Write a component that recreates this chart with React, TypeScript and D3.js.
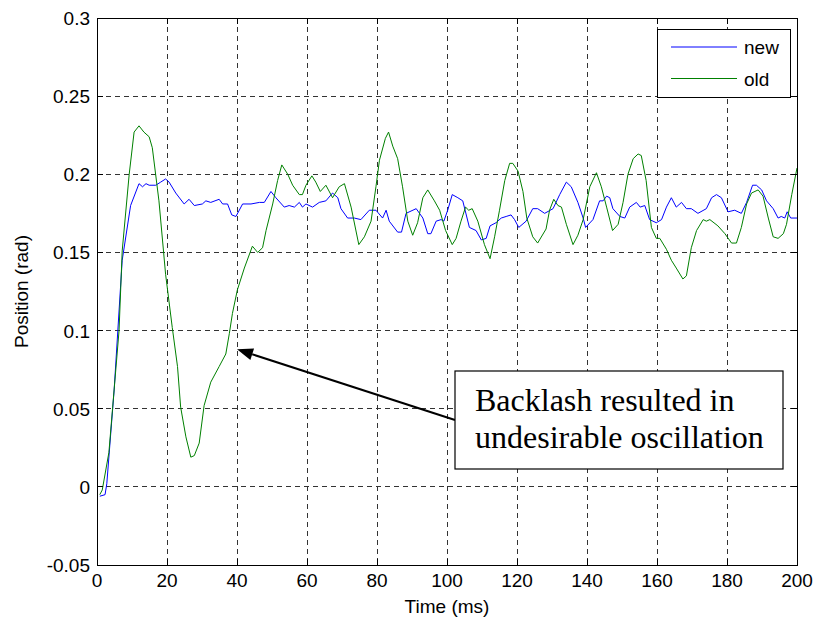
import React from 'react'
import * as d3 from 'd3'

// time (ms) and position (rad)
const oldTime = [0.8, 1.5, 3.4, 6.3, 7.2, 9.2, 10.6, 12, 13.4, 14.9, 15.8, 17.7, 19.6, 21.5, 23, 23.9, 25.4, 26.8, 27.8, 29.2, 30.6, 32.5, 34.9, 36.8, 37.8, 38.7, 40.1, 42.1, 44.4, 45.9, 47.3, 48.3, 50.2, 51.6, 52.8, 54.5, 55.9, 57.8, 58.7, 59.7, 61.4, 62.5, 63.8, 65.4, 67.3, 69.2, 70.7, 72.6, 74.8, 76.4, 78.3, 79.7, 80.7, 82.4, 83.3, 84.5, 85.9, 87.3, 88.8, 90.2, 91.6, 93.1, 94.5, 96.4, 97.9, 99.6, 101.5, 102.6, 104, 105.3, 106.2, 107.2, 108.8, 110.7, 112.3, 113.6, 115, 116.5, 117.9, 118.8, 120.3, 121.7, 122.8, 124.5, 125.9, 128.3, 129.3, 130.5, 131.7, 132.7, 134.1, 136, 137.4, 138.9, 140.8, 142.7, 144.1, 145.6, 147.3, 148.9, 150.3, 151.7, 153.2, 154.6, 155.5, 156.9, 158.4, 159.8, 160.8, 162.7, 164.1, 165.5, 167.4, 168.4, 169.8, 171.3, 173.2, 174.1, 175.1, 177.4, 179.4, 181.3, 182.7, 184.1, 185.6, 187, 188.9, 190.3, 191.8, 193.2, 194.6, 196.1, 197, 198.5, 200]
const oldPos = [-0.005, -0.002, 0.022, 0.1, 0.151, 0.2, 0.227, 0.231, 0.227, 0.224, 0.217, 0.183, 0.136, 0.102, 0.077, 0.051, 0.032, 0.019, 0.02, 0.028, 0.052, 0.067, 0.077, 0.085, 0.098, 0.111, 0.126, 0.14, 0.154, 0.15, 0.153, 0.164, 0.181, 0.196, 0.206, 0.2, 0.193, 0.187, 0.187, 0.193, 0.199, 0.195, 0.189, 0.193, 0.185, 0.192, 0.194, 0.179, 0.155, 0.16, 0.17, 0.192, 0.209, 0.223, 0.227, 0.218, 0.21, 0.192, 0.17, 0.161, 0.169, 0.185, 0.19, 0.183, 0.177, 0.164, 0.155, 0.159, 0.17, 0.179, 0.177, 0.178, 0.17, 0.155, 0.146, 0.16, 0.177, 0.196, 0.207, 0.207, 0.202, 0.189, 0.172, 0.16, 0.156, 0.165, 0.177, 0.184, 0.18, 0.179, 0.168, 0.155, 0.161, 0.171, 0.192, 0.201, 0.192, 0.179, 0.164, 0.168, 0.182, 0.2, 0.21, 0.213, 0.212, 0.196, 0.166, 0.159, 0.159, 0.152, 0.145, 0.14, 0.133, 0.135, 0.153, 0.164, 0.171, 0.17, 0.171, 0.167, 0.162, 0.156, 0.156, 0.166, 0.181, 0.188, 0.19, 0.186, 0.172, 0.16, 0.159, 0.162, 0.168, 0.187, 0.204]

const newTime = [0.8, 2.3, 2.8, 4.9, 7.2, 9.6, 12, 13, 14, 14.9, 16.8, 18.2, 19.6, 20.6, 22.5, 24.9, 26.3, 27.8, 30.1, 31.1, 32.5, 34.9, 35.9, 37.3, 38.5, 39.7, 41.6, 44, 46.4, 47.8, 49.7, 51.1, 53.5, 54.9, 56.4, 57.8, 58.7, 59.7, 61.6, 63.5, 65.4, 67.3, 68.8, 69.7, 71.6, 73.5, 75.4, 77.8, 79.7, 81.6, 82.6, 83.5, 85.9, 87, 88.3, 91.2, 93.1, 94.5, 95.4, 96.9, 98.3, 99.1, 100.2, 101.5, 103.1, 104.5, 106.4, 108.3, 109.8, 111.2, 112.3, 114, 115.5, 116.9, 118.3, 119.3, 120.5, 122.6, 124.5, 125.9, 127.9, 130.3, 132.2, 134.1, 135.5, 137.4, 138.9, 139.6, 141.7, 143.6, 144.6, 145.6, 146.5, 147.4, 149.4, 150.8, 152.2, 154.1, 155.2, 156.5, 157.9, 159.8, 161.3, 162.7, 164.1, 165.5, 167, 168.4, 169.8, 171.7, 174.1, 175.6, 177, 178.4, 180.3, 182.2, 184.1, 185.6, 187.3, 188.4, 189.9, 191.3, 193.2, 194.6, 195.5, 196.5, 197.2, 198.2, 200]
const newPos = [-0.006, -0.005, 0.002, 0.062, 0.145, 0.18, 0.194, 0.192, 0.194, 0.193, 0.193, 0.195, 0.197, 0.195, 0.188, 0.181, 0.184, 0.18, 0.181, 0.183, 0.182, 0.184, 0.181, 0.181, 0.174, 0.173, 0.181, 0.181, 0.182, 0.182, 0.189, 0.185, 0.179, 0.18, 0.179, 0.182, 0.179, 0.181, 0.179, 0.182, 0.183, 0.188, 0.185, 0.178, 0.172, 0.172, 0.171, 0.177, 0.177, 0.172, 0.177, 0.17, 0.163, 0.163, 0.175, 0.178, 0.172, 0.162, 0.162, 0.17, 0.171, 0.17, 0.177, 0.187, 0.185, 0.183, 0.166, 0.164, 0.158, 0.159, 0.167, 0.169, 0.172, 0.173, 0.174, 0.171, 0.166, 0.17, 0.178, 0.178, 0.175, 0.178, 0.187, 0.195, 0.192, 0.182, 0.172, 0.166, 0.171, 0.183, 0.183, 0.186, 0.185, 0.178, 0.173, 0.172, 0.179, 0.182, 0.179, 0.18, 0.171, 0.169, 0.171, 0.179, 0.185, 0.179, 0.182, 0.178, 0.178, 0.175, 0.178, 0.185, 0.187, 0.185, 0.176, 0.177, 0.175, 0.182, 0.193, 0.193, 0.19, 0.183, 0.178, 0.172, 0.173, 0.172, 0.176, 0.172, 0.172]

const xTicks = [0, 20, 40, 60, 80, 100, 120, 140, 160, 180, 200]
const yTicks = [-0.05, 0, 0.05, 0.1, 0.15, 0.2, 0.25, 0.3]
const seriesNames = ['new', 'old']
const seriesColors = ['#0000ff', '#008000']
const noteLines = ['Backlash resulted in', 'undesirable oscillation']
const noteTarget = [40, 0.088]

const width = 815
const height = 621
const margin = { left: 97, top: 18, right: 18, bottom: 56 }
const plotRight = width - margin.right
const plotBottom = height - margin.bottom

const xScale = d3.scaleLinear().domain([0, 200]).range([margin.left, plotRight])
const yScale = d3.scaleLinear().domain([-0.05, 0.3]).range([plotBottom, margin.top])

const sans = '"Liberation Sans", Arial, Helvetica, sans-serif'
const serif = '"Liberation Serif", "Times New Roman", serif'

function makeLine(ts: number[], vs: number[]) {
  const pts = ts.map((t, i) => [t, vs[i]] as [number, number])
  return d3
    .line<[number, number]>()
    .x(d => xScale(d[0]))
    .y(d => yScale(d[1]))(pts) as string
}

function Grid() {
  return (
    <g stroke="#333" strokeWidth={1} strokeDasharray="5,4" shapeRendering="crispEdges">
      {xTicks.slice(1, -1).map(t => (
        <line key={'gx' + t} x1={xScale(t)} x2={xScale(t)} y1={margin.top} y2={plotBottom} />
      ))}
      {yTicks.slice(1, -1).map(t => (
        <line key={'gy' + t} x1={margin.left} x2={plotRight} y1={yScale(t)} y2={yScale(t)} />
      ))}
    </g>
  )
}

function Axes() {
  const tick = 6
  return (
    <g>
      <g stroke="#000" strokeWidth={1} shapeRendering="crispEdges">
        {xTicks.map(t => (
          <g key={'tx' + t}>
            <line x1={xScale(t)} x2={xScale(t)} y1={plotBottom} y2={plotBottom - tick} />
            <line x1={xScale(t)} x2={xScale(t)} y1={margin.top} y2={margin.top + tick} />
          </g>
        ))}
        {yTicks.map(t => (
          <g key={'ty' + t}>
            <line x1={margin.left} x2={margin.left + tick} y1={yScale(t)} y2={yScale(t)} />
            <line x1={plotRight} x2={plotRight - tick} y1={yScale(t)} y2={yScale(t)} />
          </g>
        ))}
        <rect x={margin.left} y={margin.top} width={plotRight - margin.left} height={plotBottom - margin.top} fill="none" />
      </g>
      <g fontFamily={sans} fontSize={19} fill="#000">
        {xTicks.map(t => (
          <text key={'lx' + t} x={xScale(t)} y={plotBottom + 22} textAnchor="middle">
            {t}
          </text>
        ))}
        {yTicks.map(t => (
          <text key={'ly' + t} x={margin.left - 7} y={yScale(t) + 7} textAnchor="end">
            {t}
          </text>
        ))}
        <text x={(margin.left + plotRight) / 2} y={613} textAnchor="middle">
          Time (ms)
        </text>
        <text transform={`translate(28, ${(margin.top + plotBottom) / 2}) rotate(-90)`} textAnchor="middle">
          Position (rad)
        </text>
      </g>
    </g>
  )
}

function Legend() {
  const x0 = 657
  const y0 = 29
  return (
    <g>
      <rect x={x0} y={y0} width={133} height={68} fill="#fff" stroke="#000" shapeRendering="crispEdges" />
      {seriesNames.map((name, i) => (
        <g key={name}>
          <line x1={x0 + 14} x2={x0 + 80} y1={y0 + 18 + i * 31.5} y2={y0 + 18 + i * 31.5} stroke={seriesColors[i]} strokeWidth={1} />
          <text x={x0 + 87} y={y0 + 25 + i * 31.5} fontFamily={sans} fontSize={19}>
            {name}
          </text>
        </g>
      ))}
    </g>
  )
}

function Note() {
  const bx = 455
  const by = 371
  const tipX = xScale(noteTarget[0])
  const tipY = yScale(noteTarget[1])
  const sx = bx
  const sy = 420
  const ang = Math.atan2(sy - tipY, sx - tipX)
  const hl = 16
  const hw = 6
  const baseX = tipX + hl * Math.cos(ang)
  const baseY = tipY + hl * Math.sin(ang)
  const head = [
    [tipX, tipY],
    [baseX - hw * Math.sin(ang), baseY + hw * Math.cos(ang)],
    [baseX + hw * Math.sin(ang), baseY - hw * Math.cos(ang)],
  ]
  return (
    <g>
      <line x1={sx} y1={sy} x2={baseX} y2={baseY} stroke="#000" strokeWidth={2} />
      <polygon points={head.map(p => p.join(',')).join(' ')} fill="#000" />
      <rect x={bx} y={by} width={328} height={98} fill="#fff" stroke="#000" strokeWidth={1.2} />
      {noteLines.map((s, i) => (
        <text key={i} x={bx + 20} y={by + 40 + i * 37} fontFamily={serif} fontSize={32}>
          {s}
        </text>
      ))}
    </g>
  )
}

export default function App() {
  return (
    <svg width={width} height={height} style={{ position: 'absolute', left: 0, top: 0, background: '#fff' }}>
      <rect width={width} height={height} fill="#fff" />
      <Grid />
      <path d={makeLine(newTime, newPos)} fill="none" stroke={seriesColors[0]} strokeWidth={1} />
      <path d={makeLine(oldTime, oldPos)} fill="none" stroke={seriesColors[1]} strokeWidth={1} />
      <Axes />
      <Legend />
      <Note />
    </svg>
  )
}
